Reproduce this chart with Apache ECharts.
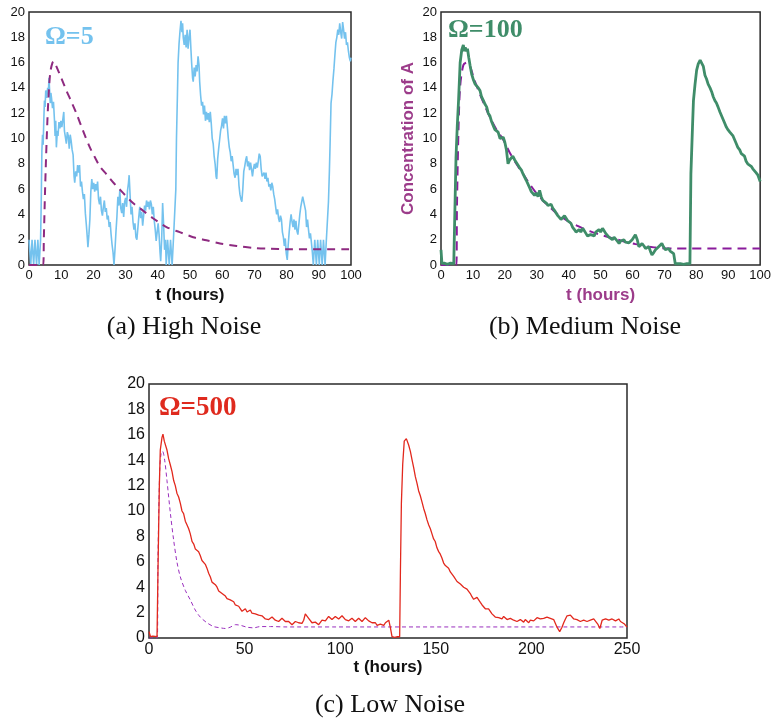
<!DOCTYPE html>
<html><head><meta charset="utf-8">
<script src="https://cdn.jsdelivr.net/npm/echarts@6/dist/echarts.min.js"></script>
<style>html,body{margin:0;padding:0;background:#fff}#c{width:774px;height:719px}</style>
</head><body><div id="c"></div>
<script>
// ---------- Panel (a) High Noise, Omega=5 ----------
const tA=[0,0.5,0.55,0.9,0.95,1.4,1.45,1.8,1.85,2.3,2.35,2.7,2.75,3.1,3.15,3.4,3.6,3.8,4.0,4.2,4.4,4.6,4.8,5.0,5.2,5.5,5.8,6.0,6.2,6.4,6.6,6.8,7.0,7.3,7.6,7.9,8.1,8.3,8.5,8.8,9.0,9.3,9.6,9.9,10.2,10.5,10.8,11.0,11.3,11.6,11.9,12.2,12.5,12.8,13.1,13.4,13.7,14.0,14.2,14.5,14.8,15.1,15.4,15.7,16.0,16.3,16.6,16.9,17.2,17.5,17.8,18.1,18.3,18.6,18.9,19.2,19.5,19.8,20.1,20.4,20.7,21.0,21.3,21.6,21.9,22.2,22.5,22.8,23.1,23.4,23.7,24.0,24.3,24.6,24.9,25.2,25.5,25.8,26.1,26.4,26.7,27.0,27.3,27.6,27.9,28.2,28.5,28.8,29.1,29.4,29.7,30.0,30.3,30.6,30.9,31.1,31.4,31.7,32.0,32.3,32.6,32.9,33.2,33.5,33.8,34.1,34.4,34.7,35.0,35.3,35.6,35.9,36.2,36.5,36.8,37.1,37.4,37.7,38.0,38.3,38.6,38.9,39.2,39.5,39.8,40.1,40.4,40.7,40.9,41.2,41.5,41.8,42.1,42.4,42.6,43.0,43.05,43.5,43.55,43.9,43.95,44.4,44.45,44.8,44.85,45.3,45.6,45.8,46.1,46.3,46.6,46.9,47.2,47.5,47.7,47.9,48.2,48.5,48.8,49.1,49.4,49.7,50.0,50.3,50.5,50.8,51.0,51.3,51.6,51.9,52.2,52.5,52.8,53.0,53.3,53.6,53.9,54.2,54.5,54.8,55.1,55.4,55.7,56.0,56.3,56.6,56.9,57.2,57.5,57.8,58.1,58.3,58.6,58.9,59.2,59.5,59.8,60.1,60.4,60.7,61.0,61.3,61.6,61.9,62.2,62.5,62.8,63.1,63.4,63.7,64.0,64.3,64.6,64.9,65.2,65.5,65.8,66.1,66.4,66.7,67.0,67.3,67.6,67.9,68.2,68.5,68.8,69.1,69.4,69.7,70.0,70.3,70.6,70.9,71.2,71.5,71.8,72.1,72.4,72.7,73.0,73.3,73.6,73.9,74.2,74.5,74.8,75.1,75.4,75.7,76.0,76.3,76.6,76.9,77.2,77.5,77.8,78.1,78.4,78.7,79.0,79.3,79.6,79.9,80.2,80.5,80.8,81.1,81.4,81.7,82.0,82.3,82.6,82.9,83.2,83.5,83.8,84.1,84.4,84.7,85.0,85.3,85.6,85.9,86.2,86.5,86.8,87.1,87.4,87.7,88.0,88.3,88.7,88.75,89.2,89.25,89.6,89.65,90.1,90.15,90.5,90.55,91.0,91.05,91.4,91.45,91.9,91.95,92.3,92.35,92.8,93.0,93.3,93.5,93.8,94.1,94.4,94.7,95.0,95.3,95.6,95.9,96.2,96.5,96.8,97.1,97.4,97.7,98.0,98.3,98.6,98.9,99.2,99.5,99.8,100];
const vA=[2,2,0,0,2,2,0,0,2,2,0,0,2,2,0,0,2,5,9,10.3,9.5,11.5,13,12.5,13.8,13.2,14,13.5,14.8,13.8,12.8,13.6,13.2,12.4,12.9,11.5,10.2,11.4,9.3,10.6,10.2,11.3,10.8,11.4,10.9,11.5,12.1,10.6,10.1,9.6,10.5,10.2,9.2,10.3,9.8,9.1,8.7,7.0,6.5,7.4,7.0,7.9,7.3,7.9,6.2,6.6,5.8,5.2,5.6,4.1,3.2,2.2,1.4,2.4,3.6,5.8,6.8,6.0,6.5,5.8,6.4,5.9,6.6,5.2,4.8,5.4,4.3,3.9,4.6,5.1,4.2,4.5,3.6,3.9,3.0,3.4,2.4,1.6,1.0,0.0,1.2,2.6,3.8,5.4,4.7,5.9,4.5,4.1,4.9,3.8,5.0,5.3,4.6,5.9,6.5,7.1,5.5,4.0,4.6,3.4,2.8,3.3,2.2,2.0,2.9,3.8,4.6,3.7,4.2,3.1,3.9,4.7,4.3,5.1,4.6,5.0,4.4,5.1,4.8,4.0,4.6,3.5,2.8,1.9,2.6,3.3,2.4,1.0,0.3,2.0,4.9,3.2,1.2,2.0,0,0,2,2,0,0,2,2,0,0,2,2,6,10,13.5,16,17.5,18.5,19.3,18.4,19.1,18.0,17.4,18.2,17.2,18.6,17.1,18.0,18.6,17.0,16.0,14.8,14.5,15.6,14.9,15.8,15.3,16.5,15.8,14.5,13.4,12.6,12.9,11.9,12.6,11.4,12.1,11.5,12.0,11.3,12.1,11.2,10.0,9.6,8.6,8.0,7.0,6.8,8.4,9.2,9.9,10.6,11.0,11.6,10.8,11.8,11.2,11.8,10.9,10.0,9.3,8.9,8.2,8.6,7.9,7.2,6.9,7.6,7.1,7.6,6.3,5.6,5.2,5.0,6.0,7.4,7.8,8.3,8.6,7.8,8.2,7.5,8.1,7.6,7.0,7.6,8.0,7.6,8.1,7.7,8.2,8.8,8.6,7.6,7.0,6.9,7.3,6.8,7.3,6.6,6.9,6.2,6.4,5.9,6.5,6.2,5.6,5.2,4.6,4.0,4.4,3.7,3.4,3.9,3.6,2.6,2.2,1.5,2.1,0.9,0.4,1.6,2.6,3.4,4.0,3.4,3.0,3.6,2.8,3.5,2.7,2.4,3.2,4.0,4.6,5.0,5.4,5.5,5.3,4.3,3.0,3.6,2.8,2.1,2.5,1.8,1.0,0,0,2,2,0,0,2,2,0,0,2,2,0,0,2,2,0,0,2,2,5,7.5,9.5,12.8,13.5,14.6,15.5,16.6,17.6,18.0,18.6,18.2,19.1,18.4,17.9,19.2,18.6,17.9,18.4,17.4,17.6,16.9,16.4,16.1,16.4];
const tAd=[0,4.4,4.6,5.0,5.5,6.0,6.6,7.3,7.8,8.5,10,11.6,13,14.7,16.8,18.9,20.5,22,24.3,26.6,29.2,32.3,35.4,38.5,42.7,46.8,51,55.1,59.3,64.5,69.6,75,80,100];
const vAd=[0,0,2,6,10,13,15.2,16,16.1,15.7,14.8,13.8,13,12,10.6,9.3,8.5,7.8,7.1,6.4,5.7,4.9,4.3,3.7,3.0,2.6,2.2,1.95,1.7,1.5,1.35,1.28,1.25,1.25];

// ---------- Panel (b) Medium Noise, Omega=100 ----------
const tB=[0,0.3,1,2,3,4,4.5,4.7,5.1,5.5,6,6.5,7,7.3,7.6,8,8.3,8.7,9.1,9.6,10.2,10.7,11.2,11.7,12.2,12.7,13.3,13.8,14.3,14.8,15.3,15.9,16.4,16.9,17.4,17.9,18.5,19,19.5,20,20.5,21,21.5,22,22.5,23.1,23.6,24.1,24.6,25.2,25.7,26.2,26.7,27.3,27.8,28.3,28.8,29.3,29.8,30.4,30.9,31.4,31.9,32.4,33,33.5,34,34.5,35,35.6,36.1,36.6,37.1,37.6,38.1,38.7,39.2,39.7,40.2,40.7,41.2,41.8,42.3,42.8,43.3,43.8,44.4,44.9,45.4,45.9,46.4,46.9,47.4,48,48.5,49,49.5,50,50.6,51.1,51.6,52.1,52.6,53.2,53.7,54.2,54.7,55.2,55.8,56.3,56.8,57.3,57.8,58.4,58.9,59.4,59.9,60.4,60.9,61.5,62,62.5,63,63.6,64.1,64.6,65.1,65.6,66.1,66.7,67.2,67.7,68.2,68.7,69.2,69.8,70.3,70.8,71.3,71.8,72.3,72.9,73.4,74,75,76,77,78,78.3,78.8,79.1,79.6,80.1,80.6,81.2,81.7,82.2,82.7,83.2,83.7,84.3,84.8,85.3,85.8,86.3,86.8,87.4,87.9,88.4,88.9,89.4,89.9,90.5,91,91.5,92,92.5,93,93.6,94.1,94.6,95.1,95.6,96.1,96.7,97.2,97.7,98.2,98.7,99.3,100];
const vB=[1.2,0.1,0.15,0.05,0.15,0.1,0.1,8.5,11,13,16,17,17.4,16.9,17.2,16.9,17.1,16.4,15.8,15.1,14.6,14.3,14.4,14.0,13.8,13.3,13.0,12.7,12.5,12.0,11.8,11.3,11.0,10.7,10.8,10.5,10.0,9.9,10.1,9.7,9.1,8.0,8.3,8.2,8.6,8.3,8.1,7.9,7.7,7.5,7.2,7.1,6.7,6.6,6.1,5.8,5.9,5.5,5.7,5.4,5.9,5.4,5.1,5.2,4.9,4.7,4.6,4.8,4.5,4.3,4.1,3.9,3.8,3.6,3.7,3.9,3.8,3.5,3.55,3.3,3.0,2.8,2.6,2.7,2.8,2.6,2.9,2.7,2.5,2.3,2.2,2.4,2.5,2.3,2.6,2.7,2.8,2.6,2.9,2.7,2.5,2.4,2.2,2.1,2.0,2.2,2.1,1.9,1.7,1.9,1.85,2.0,1.8,1.7,1.75,1.9,2.0,2.1,2.4,2.0,1.45,1.6,1.7,1.5,1.3,1.4,1.45,1.1,0.8,1.0,1.2,1.35,1.45,1.6,1.7,1.4,1.2,1.35,1.3,1.1,1.2,0.9,0.1,0.05,0.1,0.05,0.1,0.1,7.2,10.9,13,14.3,15.4,15.9,16.2,16.1,15.7,15.0,14.7,14.3,14.0,13.7,13.3,13.0,12.8,12.5,12.1,11.8,11.5,11.2,10.9,10.7,10.5,10.4,10.2,9.9,9.6,9.3,9.1,8.8,8.7,8.6,8.2,8.0,7.9,7.8,7.6,7.5,7.3,7.1,6.6];
const tBd=[0,4.8,5,5.5,6,7,8.1,9.1,10.5,12.2,13.7,15.3,17.4,19.5,21.5,23.6,25.7,27.8,29.8,31.9,34,36.1,38.1,40.2,42.3,44.4,46.4,48.5,50.5,52.6,54.7,56.8,58.8,60.9,63,65.1,67.2,69.2,73.4,100];
const vBd=[0,0,4.6,10.9,14.1,15.8,16,15.7,14.6,13.5,12.6,11.7,10.7,9.9,8.9,8.0,7.2,6.4,5.7,5.1,4.6,4.1,3.75,3.4,3.15,2.9,2.7,2.5,2.35,2.2,2.05,1.9,1.78,1.65,1.55,1.45,1.38,1.32,1.3,1.3];

// ---------- Panel (c) Low Noise, Omega=500 ----------
const tC=[0,0.8,2,3,4.2,4.7,5.4,5.9,6.8,7.3,8,9.4,10.3,11.2,12.05,12.9,13.75,14.6,15.5,16.4,17.25,18.1,19.0,19.9,20.75,21.6,22.5,23.4,24.25,25.1,25.95,26.8,27.7,28.6,29.45,30.3,31.2,32.1,32.95,33.8,34.7,35.6,36.45,37.3,38.2,39.1,39.95,40.8,41.65,42.5,43.4,44.3,45.15,46,46.9,47.8,48.65,49.5,50.4,51.3,52.15,53,53.85,54.7,55.6,56.5,57.35,58.2,59.1,60,60.85,61.7,62.6,63.5,64.35,65.2,66.05,66.9,67.8,68.7,69.55,70.4,71.3,72.2,73.05,73.9,74.8,75.7,76.55,77.4,78.25,79.1,80,80.9,81.75,82.6,83.5,84.4,85.25,86.1,87,87.9,88.75,89.6,90.5,91.4,92.25,93.1,93.95,94.8,95.7,96.6,97.45,98.3,99.2,100.1,100.95,101.8,102.7,103.6,104.45,105.3,106.15,107,107.9,108.8,109.65,110.5,111.4,112.3,113.15,114,114.9,115.8,116.65,117.5,118.4,119.3,120.15,121,121.9,122.8,123.65,124.5,125.4,126.2,127.1,128.5,130,131.1,131.5,132,132.7,133.5,134.6,135.8,136.7,137.6,138.45,139.3,140.15,141,141.9,142.8,143.65,144.5,145.4,146.3,147.15,148,148.85,149.7,150.6,151.5,152.35,153.2,154.1,155,155.85,156.7,157.6,158.5,159.35,160.2,161.1,162,162.85,163.7,164.55,165.4,166.3,167.2,168.05,168.9,169.8,170.7,171.55,172.4,173.3,174.2,175.05,175.9,176.75,177.6,178.5,179.4,180.25,181.1,182,182.9,183.75,184.6,185.5,186.4,187.25,188.1,189,189.9,190.75,191.6,192.45,193.3,194.2,195.1,195.95,196.8,197.7,198.6,199.45,200.3,201.2,202.1,202.95,203.8,204.65,205.5,206.4,207.3,208.15,209,209.9,210.8,211.65,212.5,213.4,214.8,216,216.9,217.8,218.65,219.5,220.4,221.3,222.15,223,223.85,224.7,225.6,226.5,227.35,228.2,229.1,230,230.85,231.7,232.6,233.5,234.7,235.8,237,237.9,238.8,239.65,240.5,241.35,242.2,243.1,244,244.85,245.7,246.6,247.5,248.7,250];
const vC=[0.5,0.1,0.15,0.1,0.1,5.3,11.9,14.8,15.8,16.05,15.5,14.8,14.1,13.6,13.1,12.4,12.0,11.4,11.1,10.6,10.0,9.8,9.2,8.9,8.6,8.2,7.6,7.4,7.0,6.9,6.8,6.5,6.1,6.0,5.8,5.5,5.1,4.8,4.4,4.3,4.2,4.0,3.7,3.75,3.5,3.6,3.3,3.1,3.2,3.0,3.05,2.85,2.6,2.45,2.5,2.3,2.1,2.2,2.3,2.05,2.15,2.2,1.95,2.05,1.9,2.0,1.8,1.65,1.75,1.6,1.5,1.65,1.45,1.5,1.65,1.6,1.4,1.5,1.3,1.4,1.55,1.45,1.3,1.4,1.3,1.25,1.05,1.1,1.3,1.35,1.2,1.25,1.15,1.4,1.9,1.8,1.55,1.45,1.2,1.1,1.25,1.35,1.05,1.2,1.4,1.5,1.35,1.45,1.7,1.6,1.45,1.5,1.7,1.65,1.5,1.6,1.75,1.65,1.45,1.5,1.35,1.4,1.55,1.45,1.3,1.35,1.55,1.4,1.3,1.45,1.6,1.5,1.35,1.35,1.2,1.1,1.2,1.0,1.15,1.1,0.95,1.0,1.2,1.1,1.4,0.85,0.1,0.05,0.1,0.1,5.3,10.6,13.7,15.5,15.7,15.2,14.7,14.0,13.4,12.7,12.2,11.6,11.2,10.7,10.2,9.8,9.3,8.9,8.6,8.2,7.8,7.6,7.1,6.8,6.6,6.3,5.9,5.7,5.6,5.5,5.2,5.1,4.85,4.7,4.45,4.3,4.25,4.1,4.0,3.9,3.85,3.7,3.5,3.25,3.05,3.0,3.2,3.1,2.8,2.6,2.45,2.3,2.4,2.3,2.1,1.9,1.8,1.65,1.75,1.6,1.45,1.5,1.7,1.65,1.45,1.45,1.55,1.6,1.4,1.5,1.3,1.25,1.45,1.4,1.25,1.45,1.35,1.2,1.4,1.5,1.35,1.45,1.6,1.6,1.5,1.65,1.55,1.5,1.65,1.65,1.55,1.5,1.45,1.4,0.85,0.5,0.85,1.2,1.5,1.75,1.85,1.8,1.7,1.5,1.35,1.45,1.45,1.3,1.25,1.4,1.4,1.3,1.25,1.4,1.35,1.5,1.45,1.1,0.75,1.4,1.35,1.5,1.6,1.4,1.45,1.5,1.65,1.35,1.45,1.5,1.3,1.4,1.1,0.85];
const tCd=[0,4.3,4.7,5.6,6.3,7.1,8.2,9.4,11.2,12.9,14.6,16.4,19,21.6,24.2,26.8,30.3,33.8,37.3,39.9,42.5,45.2,47.8,51.3,54.7,58.2,63.5,72.2,250];
const vCd=[0,0,6.4,13.2,14.5,14.7,14,12.4,9.8,7.7,6,4.8,3.75,3,2.2,1.65,1.2,0.9,0.8,0.75,0.85,1.05,1.0,0.85,0.8,0.9,0.9,0.87,0.87];

// tick settings
const yTicks={min:0,max:20,interval:2};
const xTicksAB={min:0,max:100,interval:10};
const xTicksC={min:0,max:250,interval:50};

const zip=(t,v)=>t.map((x,i)=>[x,v[i]]);
const sans='"Liberation Sans", Arial, sans-serif';
const serif='"Liberation Serif", "Times New Roman", serif';
const purpleTxt='#9C3C8A';

function xAxis(idx,ticks,fs,nameColor,gap){
  return Object.assign({type:'value',gridIndex:idx,name:'t (hours)',nameLocation:'middle',nameGap:gap,
    nameTextStyle:{fontFamily:sans,fontWeight:'bold',fontSize:17,color:nameColor},
    axisLine:{show:false},axisTick:{show:false},splitLine:{show:false},
    axisLabel:{fontFamily:sans,fontSize:fs,color:'#111',margin:4}},ticks);
}
function yAxis(idx,fs,extra){
  return Object.assign({type:'value',gridIndex:idx,
    axisLine:{show:false},axisTick:{show:false},splitLine:{show:false},
    axisLabel:{fontFamily:sans,fontSize:fs,color:'#111',margin:4}},yTicks,extra||{});
}
const gridStyle={show:true,borderColor:'#2a2a2a',borderWidth:1.5,backgroundColor:'#fff'};

const chart=echarts.init(document.getElementById('c'),null,{renderer:'canvas'});
chart.setOption({
  animation:false,
  grid:[
    Object.assign({left:29,top:12,width:322,height:253},gridStyle),
    Object.assign({left:441,top:12,width:321,height:253},gridStyle),
    Object.assign({left:149,top:384,width:478,height:254},gridStyle)
  ],
  xAxis:[xAxis(0,xTicksAB,13,'#111',22),xAxis(1,xTicksAB,13,purpleTxt,22),xAxis(2,xTicksC,16,'#111',21)],
  yAxis:[yAxis(0,13),yAxis(1,13,{name:'Concentration of A',nameLocation:'middle',nameGap:24,nameRotate:90,
    nameTextStyle:{fontFamily:sans,fontWeight:'bold',fontSize:17,color:purpleTxt}}),yAxis(2,16)],
  series:[
    {type:'line',xAxisIndex:0,yAxisIndex:0,data:zip(tA,vA),showSymbol:false,lineStyle:{color:'#74C2EE',width:1.6},z:2},
    {type:'line',xAxisIndex:0,yAxisIndex:0,data:zip(tAd,vAd),showSymbol:false,smooth:0.3,lineStyle:{color:'#8E2A80',width:2,type:[8,6]},z:3},
    {type:'line',xAxisIndex:1,yAxisIndex:1,data:zip(tBd,vBd),showSymbol:false,smooth:0.3,lineStyle:{color:'#8A1B9C',width:2,type:[9,6]},z:2},
    {type:'line',xAxisIndex:1,yAxisIndex:1,data:zip(tB,vB),showSymbol:false,lineStyle:{color:'#3F8D69',width:2.8},z:3},
    {type:'line',xAxisIndex:2,yAxisIndex:2,data:zip(tCd,vCd),showSymbol:false,smooth:0.3,lineStyle:{color:'#9A2FBE',width:1,type:[4,3]},z:2},
    {type:'line',xAxisIndex:2,yAxisIndex:2,data:zip(tC,vC),showSymbol:false,lineStyle:{color:'#E2281D',width:1.3},z:3}
  ],
  graphic:[
    {type:'text',left:45,top:24,style:{text:'Ω=5',font:'bold 26px '+serif,fill:'#74C2EE'}},
    {type:'text',left:448,top:17,style:{text:'Ω=100',font:'bold 26px '+serif,fill:'#3F8D69'}},
    {type:'text',left:159,top:395,style:{text:'Ω=500',font:'bold 27px '+serif,fill:'#DF2A1E'}},
    {type:'text',x:184,y:327,style:{text:'(a) High Noise',font:'26px '+serif,fill:'#111',align:'center',verticalAlign:'middle'}},
    {type:'text',x:585,y:327,style:{text:'(b) Medium Noise',font:'26px '+serif,fill:'#111',align:'center',verticalAlign:'middle'}},
    {type:'text',x:390,y:705,style:{text:'(c) Low Noise',font:'26px '+serif,fill:'#111',align:'center',verticalAlign:'middle'}}
  ]
});
</script></body></html>
